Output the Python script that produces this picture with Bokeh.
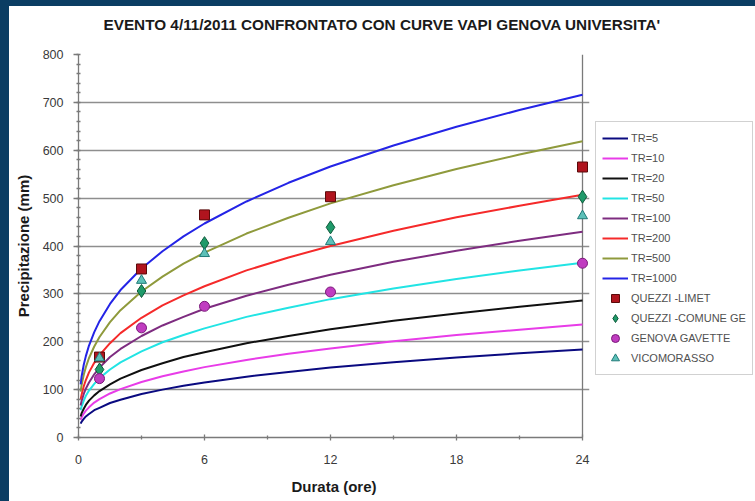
from bokeh.plotting import figure
from bokeh.models import Range1d, Legend, LegendItem, FixedTicker
from bokeh.embed import file_html
from bokeh.resources import INLINE

# Depth-duration curves (VAPI, Genova Universita'), precipitation in mm
durations = [0.1, 0.15, 0.25, 0.35, 0.5, 0.75, 1, 1.5, 2, 3, 4, 5, 6, 8, 10, 12, 15, 18, 21, 24]
tr5 = [29, 33, 39, 44, 49, 57, 62, 72, 79, 91, 100, 108, 115, 127, 137, 146, 157, 167, 176, 184]
tr10 = [37, 42, 50, 56, 63, 73, 80, 92, 101, 116, 128, 138, 147, 162, 175, 186, 201, 214, 225, 236]
tr20 = [44, 51, 60, 68, 77, 88, 97, 111, 123, 141, 155, 168, 178, 197, 212, 226, 244, 259, 273, 286]
tr50 = [57, 65, 77, 87, 98, 112, 124, 142, 157, 180, 199, 214, 228, 252, 271, 289, 311, 331, 349, 365]
tr100 = [67, 77, 91, 102, 115, 132, 146, 168, 185, 212, 234, 252, 269, 296, 319, 340, 367, 390, 411, 430]
tr200 = [79, 90, 107, 120, 136, 156, 172, 197, 218, 250, 276, 297, 316, 349, 376, 400, 432, 460, 484, 507]
tr500 = [96, 110, 131, 147, 166, 190, 210, 241, 266, 305, 336, 363, 386, 426, 459, 489, 527, 561, 591, 619]
tr1000 = [111, 128, 152, 170, 192, 220, 243, 279, 308, 353, 389, 420, 447, 493, 532, 566, 610, 649, 684, 716]

curve_labels = ["TR=5", "TR=10", "TR=20", "TR=50", "TR=100", "TR=200", "TR=500", "TR=1000"]
curve_values = [tr5, tr10, tr20, tr50, tr100, tr200, tr500, tr1000]
curve_colors = ["#0a0a80", "#e83ce8", "#101010", "#22e4e4", "#7e2c80", "#f52a2a", "#8f9a3c", "#2424e6"]

# Observed maxima of the 4/11/2011 event
obs_hours = [1, 3, 6, 12, 24]
quezzi_limet = [168, 352, 465, 503, 565]
quezzi_comune = [142, 306, 406, 439, 503]
genova_gavette = [123, 229, 274, 304, 364]
vicomorasso = [166, 328, 384, 409, 463]

y_ticks = [0, 100, 200, 300, 400, 500, 600, 700, 800]
x_ticks = [0, 6, 12, 18, 24]

FRAME_BLUE = "#0b3d63"
FONT = "Liberation Sans"
GRID = "#8e8e8e"

# frame is 21 px per hour; a little room past 24 h keeps the last markers whole
p = figure(frame_width=511, frame_height=383,
           min_border_left=69, min_border_right=166,
           min_border_top=48, min_border_bottom=64,
           x_range=Range1d(0, 24 * 511 / 504), y_range=Range1d(0, 800),
           output_backend="svg", toolbar_location=None,
           background_fill_color="white", border_fill_color="white")

# dark page frame on the left and top edges
p.styles = {"border-left": "9px solid " + FRAME_BLUE,
            "border-top": "6px solid " + FRAME_BLUE}

p.outline_line_color = None
p.xgrid.grid_line_color = None

# horizontal grid lines at every 100 mm
p.ygrid.ticker = FixedTicker(ticks=y_ticks)
p.ygrid.grid_line_color = GRID
p.ygrid.grid_line_width = 1.3

# right frame edge at 24 h
p.line([x_ticks[-1], x_ticks[-1]], [y_ticks[0], y_ticks[-1]], line_color="#7a7a7a",
       line_width=1.3)

# title (the empty second line lifts it towards the top edge)
p.title.text = "EVENTO 4/11/2011 CONFRONTATO  CON CURVE VAPI GENOVA UNIVERSITA'\n "
p.title.text_font = FONT
p.title.text_font_size = "15.3px"
p.title.text_line_height = 1.0
p.title.text_font_style = "bold"
p.title.text_color = "#1a1a1a"
p.title.align = "left"
p.title.offset = 25
p.title.standoff = 10

# axes
for ax in (p.xaxis[0], p.yaxis[0]):
    ax.axis_line_color = "#7a7a7a"
    ax.axis_line_width = 1.3
    ax.major_tick_line_color = "#7a7a7a"
    ax.major_tick_line_width = 1.3
    ax.minor_tick_line_color = "#7a7a7a"
    ax.minor_tick_line_width = 1.3
    ax.major_label_text_font = FONT
    ax.major_label_text_font_size = "12.5px"
    ax.major_label_text_color = "#3a3a3a"
    ax.axis_label_text_font = FONT
    ax.axis_label_text_font_style = "bold"
    ax.axis_label_text_font_size = "15px"
    ax.axis_label_text_color = "#1a1a1a"

p.xaxis.ticker = FixedTicker(ticks=x_ticks, minor_ticks=[3, 9, 15, 21])
p.xaxis.bounds = (0, 24)
p.xaxis.major_tick_in = 3
p.xaxis.major_tick_out = 3
p.xaxis.minor_tick_in = 2
p.xaxis.minor_tick_out = 2
p.xaxis.major_label_standoff = 14
p.xaxis.axis_label = "Durata (ore)"
p.xaxis.axis_label_standoff = 11

p.yaxis.ticker = FixedTicker(ticks=y_ticks, minor_ticks=list(range(0, 801, 20)))
p.yaxis.major_tick_in = 0
p.yaxis.major_tick_out = 5
p.yaxis.minor_tick_in = 2
p.yaxis.minor_tick_out = 2
p.yaxis.major_label_standoff = 10
p.yaxis.axis_label = "Precipitazione (mm)"
p.yaxis.axis_label_standoff = 8

# curves
items = []
for label, vals, col in zip(curve_labels, curve_values, curve_colors):
    r = p.line(durations, vals, line_color=col, line_width=2)
    items.append(LegendItem(label=label, renderers=[r]))

# observations
r_sq = p.scatter(obs_hours, quezzi_limet, marker="square", size=10,
                 fill_color="#b0141e", line_color="#5a0a0a", line_width=1)
r_di = p.scatter(obs_hours, quezzi_comune, marker="diamond", size=13,
                 fill_color="#1f9a6a", line_color="#0d5a3a", line_width=1)
r_ci = p.scatter(obs_hours, genova_gavette, marker="circle", size=10,
                 fill_color="#c03cc0", line_color="#7a1a7a", line_width=1)
r_tr = p.scatter(obs_hours, vicomorasso, marker="triangle", size=10,
                 fill_color="#5cc0b8", line_color="#1f7a78", line_width=1)
items += [LegendItem(label="QUEZZI -LIMET", renderers=[r_sq]),
          LegendItem(label="QUEZZI -COMUNE GE", renderers=[r_di]),
          LegendItem(label="GENOVA GAVETTE", renderers=[r_ci]),
          LegendItem(label="VICOMORASSO", renderers=[r_tr])]

legend = Legend(items=items, location=(6, 62))
legend.label_text_font = FONT
legend.label_text_font_size = "11px"
legend.label_text_color = "#505050"
legend.glyph_width = 26
legend.glyph_height = 20
legend.label_height = 20
legend.label_standoff = 3
legend.spacing = 0
legend.padding = 6
legend.margin = 0
legend.border_line_color = "#a4a4a4"
legend.border_line_width = 1
legend.background_fill_color = "white"
legend.background_fill_alpha = 1
p.add_layout(legend, "right")

open("out.html", "w").write(file_html(p, INLINE))
